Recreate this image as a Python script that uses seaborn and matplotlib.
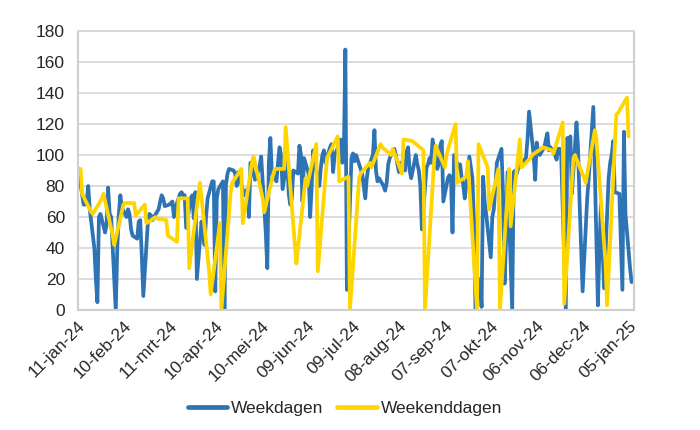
import pandas as pd
import matplotlib
matplotlib.use("Agg")
import matplotlib.pyplot as plt
import seaborn as sns

# ---- data -----------------------------------------------------------------
weekday_start = "2024-01-11"
weekday_end = "2025-01-07"
weekend_start = "2024-01-13"
weekend_end = "2025-01-05"

# one row per week (Mon..Fri); first row = Thu 11 / Fri 12 Jan, last row = Mon 6 / Tue 7 Jan
weekday_values = [
    92, 88,
    68, 68, 70, 80, 65,
    40, 20, 5, 60, 62,
    50, 55, 79, 62, 60,
    0, 40, 62, 74, 66,
    60, 65, 62, 52, 48,
    46, 57, 58, 35, 9,
    57, 62, 61, 58, 60,
    65, 70, 74, 72, 67,
    68, 69, 70, 60, 66,
    75, 76, 74, 74, 53,
    72, 74, 59, 76, 20,
    57, 50, 42, 60, 72,
    83, 83, 12, 72, 78,
    83, 0, 81, 88, 91,
    90, 88, 80, 89, 85,
    74, 76, 78, 60, 95,
    84, 86, 90, 93, 99,
    50, 27, 95, 111, 88,
    83, 95, 105, 100, 78,
    98, 75, 68, 72, 90,
    88, 106, 100, 70, 98,
    88, 60, 80, 103, 95,
    80, 92, 100, 103, 95,
    105, 107, 89, 100, 102,
    110, 95, 100, 168, 13,
    98, 101, 96, 100, 97,
    88, 80, 72, 85, 92,
    100, 116, 90, 83, 85,
    80, 77, 82, 94, 98,
    104, 100, 94, 89, 95,
    90, 102, 105, 90, 85,
    100, 94, 90, 80, 52,
    92, 94, 98, 95, 110,
    91, 94, 106, 109, 70,
    85, 87, 85, 50, 100,
    92, 94, 85, 81, 72,
    99, 92, 85, 58, 0,
    20, 2, 86, 70, 62,
    34, 60, 65, 80, 95,
    104, 75, 17, 45, 89,
    0, 89, 90, 88, 92,
    94, 97, 98, 110, 128,
    100, 84, 108, 102, 100,
    105, 110, 114, 103, 105,
    100, 97, 104, 104, 100,
    0, 111, 108, 112, 75,
    121, 105, 70, 40, 12,
    72, 85, 100, 115, 131,
    3, 40, 68, 40, 14,
    85, 95, 100, 109, 76,
    75, 45, 13, 115, 62,
    27, 18,
]

# Sat, Sun pairs
weekend_values = [
    91, 75, 63, 62, 72, 75, 48, 42, 68, 69, 69, 61, 68, 56, 60, 59,
    58, 48, 44, 72, 72, 27, 75, 82, 25, 10, 56, 0, 75, 82, 91, 56,
    95, 99, 72, 63, 88, 91, 91, 118, 42, 30, 85, 80, 107, 25, 98, 100,
    112, 83, 86, 0, 85, 88, 95, 92, 107, 105, 100, 104, 88, 110, 109, 108,
    103, 0, 96, 106, 92, 100, 120, 82, 86, 96, 0, 107, 92, 65, 91, 0,
    91, 54, 110, 92, 98, 100, 104, 105, 103, 101, 121, 4, 98, 100, 85, 82,
    116, 110, 30, 3, 126, 127, 137, 112,
]

tick_labels = ["11-jan-24", "10-feb-24", "11-mrt-24", "10-apr-24", "10-mei-24",
               "09-jun-24", "09-jul-24", "08-aug-24", "07-sep-24", "07-okt-24",
               "06-nov-24", "06-dec-24", "05-jan-25"]
y_ticks = [0, 20, 40, 60, 80, 100, 120, 140, 160, 180]
series_names = ["Weekdagen", "Weekenddagen"]

# ---- style ----------------------------------------------------------------
BLUE = "#2E74B5"
YELLOW = "#FFD500"
GRID = "#D9D9D9"
AXIS = "#CFCFCF"
TEXT = "#262626"

sns.set_theme(style="white")
plt.rcParams["font.family"] = ["Liberation Sans", "DejaVu Sans"]

wd_dates = pd.bdate_range(weekday_start, weekday_end)
all_days = pd.date_range(weekend_start, weekend_end)
we_dates = all_days[all_days.dayofweek >= 5]

df_wd = pd.DataFrame({"datum": wd_dates, "waarde": weekday_values})
df_we = pd.DataFrame({"datum": we_dates, "waarde": weekend_values})

W, H = 700, 430
fig = plt.figure(figsize=(W / 100, H / 100), dpi=100)
left, right, top, bottom = 77.5, 633.5, 31, 310
ax = fig.add_axes([left / W, 1 - bottom / H, (right - left) / W, (bottom - top) / H])

sns.lineplot(data=df_wd, x="datum", y="waarde", ax=ax, color=BLUE, lw=2.7,
             label=series_names[0], estimator=None, sort=False)
sns.lineplot(data=df_we, x="datum", y="waarde", ax=ax, color=YELLOW, lw=2.7,
             label=series_names[1], estimator=None, sort=False)
for ln in ax.lines:
    ln.set_solid_joinstyle("round")
    ln.set_solid_capstyle("round")

ax.set_ylim(0, 180)
ax.set_yticks(y_ticks)
ax.set_xlim(pd.Timestamp("2024-01-11"), pd.Timestamp("2025-01-08 06:00"))
tick_dates = pd.date_range(weekday_start, periods=len(tick_labels), freq="30D")
ax.set_xticks(tick_dates)
ax.set_xticklabels(tick_labels, rotation=45, ha="right", va="top",
                   rotation_mode="anchor")
ax.set_xlabel("")
ax.set_ylabel("")

ax.yaxis.grid(True, color=GRID, lw=1.3)
ax.xaxis.grid(False)
ax.set_axisbelow(True)
for s in ax.spines.values():
    s.set_visible(True)
    s.set_color(AXIS)
    s.set_linewidth(1.5)
ax.spines["top"].set_color(GRID)

ax.tick_params(axis="both", which="both", direction="out", length=3,
               width=1.2, color=AXIS, labelsize=12.5, labelcolor=TEXT)
ax.tick_params(axis="y", pad=6)
ax.tick_params(axis="x", pad=3)

handles, labels = ax.get_legend_handles_labels()
ax.get_legend().remove()
leg = fig.legend(handles, labels, loc="center", bbox_to_anchor=(0.4925, 1 - 408 / H),
                 ncol=2, frameon=False, fontsize=12.5, handlelength=2.3,
                 handletextpad=0.2, columnspacing=0.8)
for t in leg.get_texts():
    t.set_color(TEXT)
for lh in leg.get_lines():
    lh.set_linewidth(3.4)

fig.savefig("out.png", dpi=100)
